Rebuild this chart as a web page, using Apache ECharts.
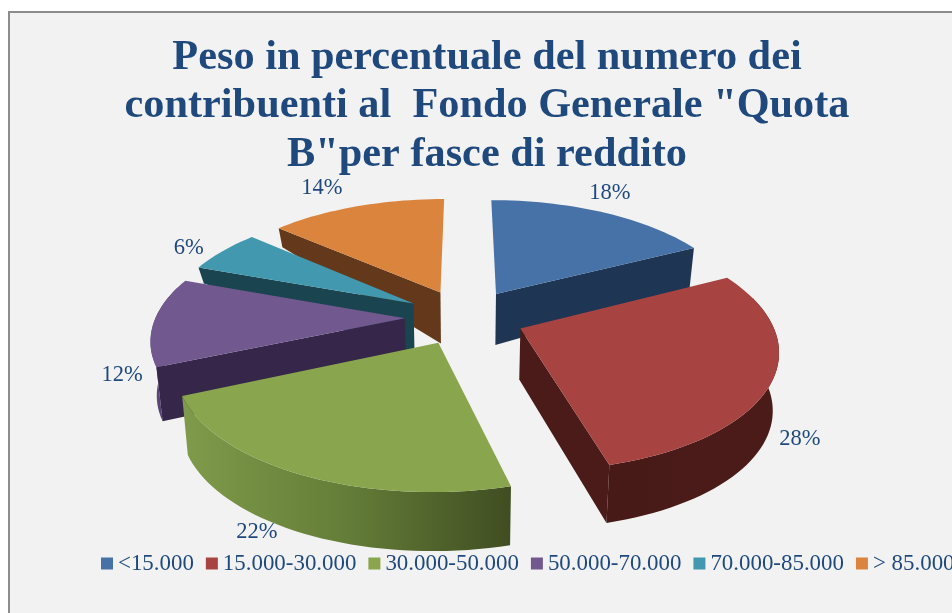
<!DOCTYPE html>
<html>
<head>
<meta charset="utf-8">
<title>Peso in percentuale</title>
<script src="https://cdn.jsdelivr.net/npm/echarts@6/dist/echarts.min.js"></script>
<style>
html, body { margin: 0; padding: 0; background: #fff; overflow: hidden; }
#main { width: 952px; height: 613px; }
</style>
</head>
<body>
<div id="main"></div>
<script>
// data
var categories = ['<15.000', '15.000-30.000', '30.000-50.000', '50.000-70.000', '70.000-85.000', '> 85.000'];
var shares = [18, 28, 22, 12, 6, 14];

// slice colours: top face, straight wall, curved wall (left, middle, right)
var topColors = ['#4672a8', '#a74442', '#89a54e', '#71588f', '#4198af', '#db843d'];
var wallColors = ['#1e3553', '#4a1b18', '#414f22', '#35264a', '#1a4550', '#64381a'];
var rimColors = [
    ['#1e3553', '#1e3553', '#1e3553'],
    ['#471a17', '#4a1b18', '#4a1b18'],
    ['#7f9b4a', '#647d38', '#404d21'],
    ['#6a5289', '#4a3763', '#35264a'],
    ['#1a4550', '#1a4550', '#1a4550'],
    ['#64381a', '#64381a', '#64381a']
];

// tilted disc layout
var cx = 465, cy = 312.5, radius = 247, squash = 114;
var perspective = 0.185, explode = 0.243;
var apexDrop = 4, apexDepth = 51, bottomScale = 0.98;
var rimDepth = [42, 58, 59, 54, 16, 19];
var labelNudge = [[7, -19], [27, 60], [-43, 58], [-32, 54], [-34, -3], [-35, -18]];
// the curved wall only shows on the front of the disc
var frontFrom = 75, frontTo = 285;

var textColor = '#1f497d';
var serif = '"Liberation Serif", "Times New Roman", serif';

var total = shares.reduce(function(a, b) { return a + b; }, 0);
var startAngles = [];
shares.reduce(function(sum, v, i) {
    startAngles[i] = sum / total * 360;
    return sum + v;
}, 0);

function project(u, v) {
    var s = 1 / (1 - perspective * v);
    return [cx + radius * u * s, cy + squash * v * s];
}

// point of a slice, r = 0 is its apex, r = 1 its rim
function slicePoint(angle, mid, r) {
    var a = angle * Math.PI / 180, m = mid * Math.PI / 180;
    return project(explode * Math.sin(m) + r * Math.sin(a), -explode * Math.cos(m) - r * Math.cos(a));
}

function lower(p, depth) {
    return [cx + (p[0] - cx) * bottomScale, p[1] + depth];
}

function renderSlice(i) {
    return function(params, api) {
        var value = api.value(0);
        var start = startAngles[i];
        var end = start + value / total * 360;
        var mid = (start + end) / 2;
        var steps = Math.ceil((end - start) / 2);
        var rim = [], rimLow = [], frontTop = [], frontLow = [];
        for (var k = 0; k <= steps; k++) {
            var angle = start + (end - start) * k / steps;
            var p = slicePoint(angle, mid, 1);
            var q = lower(p, rimDepth[i]);
            rim.push(p);
            rimLow.push(q);
            if (angle >= frontFrom && angle <= frontTo) {
                frontTop.push(p);
                frontLow.push(q);
            }
        }
        var apex = slicePoint(start, mid, 0);
        apex[1] += apexDrop;
        var apexLow = lower(apex, apexDepth);
        var children = [];

        // curved outer wall
        if (frontTop.length > 1) {
            children.push({
                type: 'polygon',
                shape: { points: frontTop.concat(frontLow.slice().reverse()) },
                style: {
                    fill: new echarts.graphic.LinearGradient(0, 0, 1, 0, [
                        { offset: 0, color: rimColors[i][0] },
                        { offset: 0.5, color: rimColors[i][1] },
                        { offset: 1, color: rimColors[i][2] }
                    ])
                }
            });
        }

        // only the straight wall that faces the viewer
        var edge = null;
        if (end < 180) edge = rim.length - 1;
        else if (start > 180) edge = 0;
        if (edge !== null) {
            children.push({
                type: 'polygon',
                shape: { points: [apex, rim[edge], rimLow[edge], apexLow] },
                style: { fill: wallColors[i] }
            });
        }

        // top face
        children.push({
            type: 'polygon',
            shape: { points: [apex].concat(rim) },
            style: { fill: topColors[i] }
        });

        // percentage label
        var at = slicePoint(mid, mid, 1);
        children.push({
            type: 'text',
            x: at[0] + labelNudge[i][0],
            y: at[1] + labelNudge[i][1],
            style: {
                text: value + '%',
                fill: textColor,
                font: '22.5px ' + serif,
                textAlign: 'center',
                textVerticalAlign: 'middle'
            }
        });

        return { type: 'group', children: children };
    };
}

var series = categories.map(function(name, i) {
    var mid = (startAngles[i] + shares[i] / total * 180) * Math.PI / 180;
    return {
        type: 'custom',
        name: name,
        coordinateSystem: 'none',
        // slices nearer the viewer paint later
        z: 10 - 5 * Math.cos(mid),
        itemStyle: { color: topColors[i] },
        data: [[shares[i]]],
        renderItem: renderSlice(i)
    };
});

var myChart = echarts.init(document.getElementById('main'));
myChart.setOption({
    animation: false,
    backgroundColor: '#ffffff',
    title: {
        text: 'Peso in percentuale del numero dei\ncontribuenti al  Fondo Generale "Quota\nB"per fasce di reddito',
        left: 487,
        top: 33.5,
        textAlign: 'center',
        padding: 0,
        textStyle: {
            color: textColor,
            fontFamily: serif,
            fontWeight: 'bold',
            fontSize: 42.3,
            lineHeight: 48.5
        }
    },
    graphic: [{
        type: 'rect',
        silent: true,
        z: -10,
        shape: { x: 9, y: 12, width: 1100, height: 800 },
        style: { fill: '#f2f2f2', stroke: '#8c8c8c', lineWidth: 2 }
    }],
    legend: {
        left: 101,
        top: 552,
        width: 1300,
        padding: 0,
        itemWidth: 12,
        itemHeight: 12,
        itemGap: 12,
        icon: 'rect',
        selectedMode: false,
        data: categories,
        textStyle: { color: textColor, fontFamily: serif, fontSize: 22.9 }
    },
    series: series
});
</script>
</body>
</html>
